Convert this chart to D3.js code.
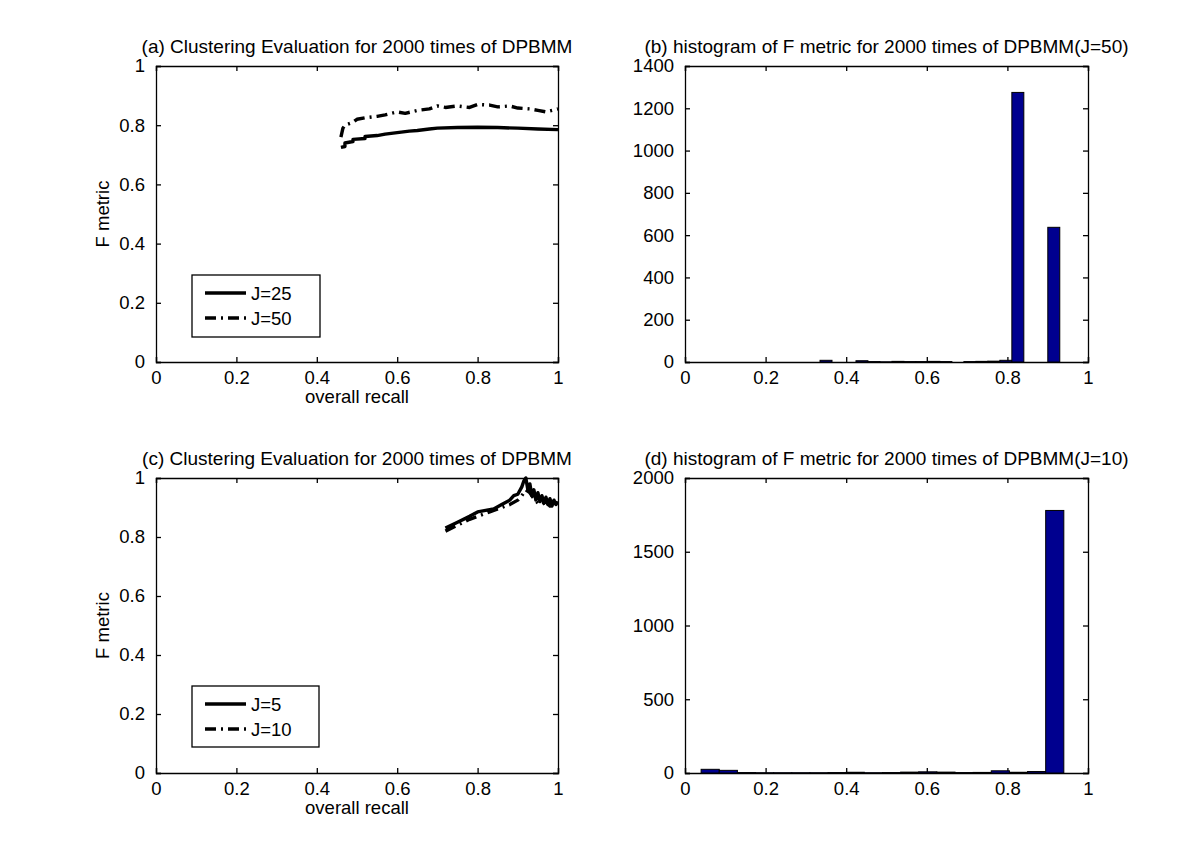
<!DOCTYPE html>
<html>
<head>
<meta charset="utf-8">
<script src="https://cdn.jsdelivr.net/npm/d3@7"></script>
<style>
  html, body { margin: 0; padding: 0; background: #fff; }
  svg text { font-family: "Liberation Sans", Arial, Helvetica, sans-serif; fill: #000; }
</style>
</head>
<body>
<script>
// ---------- DATA ----------
const titles = [
  "(a) Clustering Evaluation for 2000 times of DPBMM",
  "(b) histogram of F metric for 2000 times of DPBMM(J=50)",
  "(c) Clustering Evaluation for 2000 times of DPBMM",
  "(d) histogram of F metric for 2000 times of DPBMM(J=10)"
];
const xLabelCurve = "overall recall";
const yLabelCurve = "F metric";
const unitTicks = [0, 0.2, 0.4, 0.6, 0.8, 1];
const ticksB = [0, 200, 400, 600, 800, 1000, 1200, 1400];
const ticksD = [0, 500, 1000, 1500, 2000];

// panel (a)
const legendA = ["J=25", "J=50"];
const recallA25 = [0.46,0.47,0.47,0.49,0.49,0.52,0.52,0.55,0.57,0.60,0.63,0.65,0.68,0.70,0.75,0.80,0.85,0.90,0.95,1.00];
const fA25      = [0.725,0.728,0.740,0.745,0.752,0.755,0.762,0.765,0.770,0.775,0.780,0.782,0.787,0.790,0.792,0.793,0.792,0.790,0.787,0.785];
const recallA50 = [0.46,0.465,0.47,0.49,0.50,0.52,0.55,0.57,0.60,0.62,0.65,0.68,0.70,0.72,0.75,0.78,0.80,0.83,0.85,0.88,0.90,0.93,0.95,0.97,1.00];
const fA50      = [0.760,0.790,0.800,0.810,0.820,0.825,0.830,0.835,0.845,0.840,0.850,0.855,0.865,0.860,0.865,0.860,0.870,0.868,0.862,0.865,0.858,0.855,0.850,0.845,0.855];

// panel (c)
const legendC = ["J=5", "J=10"];
const recallC5 = [0.72,0.75,0.78,0.80,0.82,0.84,0.86,0.88,0.89,0.90,0.91,0.915,0.92,0.925,0.93,0.935,0.94,0.945,0.95,0.955,0.96,0.965,0.97,0.975,0.98,0.985,0.99,0.995,1.00];
const fC5      = [0.830,0.850,0.870,0.885,0.890,0.895,0.910,0.925,0.940,0.945,0.970,0.990,1.000,0.960,0.980,0.940,0.960,0.925,0.950,0.920,0.940,0.915,0.935,0.910,0.930,0.905,0.925,0.910,0.920];
const recallC10 = [0.72,0.75,0.78,0.80,0.83,0.86,0.88,0.90,0.91,0.92,0.93,0.94,0.95,0.96,0.97,0.98,0.99,1.00];
const fC10      = [0.820,0.840,0.860,0.870,0.885,0.900,0.910,0.925,0.940,0.960,0.950,0.930,0.915,0.910,0.920,0.905,0.915,0.910];

// panel (b) histogram: bin centers and counts
const binCentersB = [0.3499,0.3796,0.4094,0.4391,0.4689,0.4986,0.5284,0.5581,0.5879,0.6176,0.6474,0.6771,0.7069,0.7366,0.7664,0.7961,0.8259,0.8556,0.8854,0.9151];
const countsB     = [8,0,0,6,2,1,3,2,2,3,2,0,2,3,4,8,1275,0,0,637];
// panel (d) histogram
const binCentersD = [0.0625,0.1075,0.1525,0.1975,0.2425,0.2875,0.3325,0.3775,0.4225,0.4675,0.5125,0.5575,0.6025,0.6475,0.6925,0.7375,0.7825,0.8275,0.8725,0.9175];
const countsD     = [25,18,3,2,2,2,2,3,5,2,3,6,8,6,3,4,15,5,10,1780];

// ---------- LAYOUT ----------
const W = 1200, H = 868;
const colL = [156, 558], colR = [685, 1088];
const rowT = [66, 362], rowB = [478, 773];
const barFill = "#00008f";
const dashDot = "11,5,2,5";
const font = 18.5;

const svg = d3.select("body").append("svg")
  .attr("width", W).attr("height", H)
  .style("display", "block");
svg.append("rect").attr("width", W).attr("height", H).attr("fill", "#fff");

function makeAxes(xr, yr, yDomain, yTicks, xTicks, title, xlab, ylab) {
  const x = d3.scaleLinear().domain([0, 1]).range(xr);
  const y = d3.scaleLinear().domain(yDomain).range([yr[1], yr[0]]);
  const g = svg.append("g");
  const tk = 5;
  const bottom = g.append("g").attr("transform", `translate(0,${yr[1]})`)
    .call(d3.axisBottom(x).tickValues(xTicks).tickSize(-tk).tickPadding(4 + tk).tickFormat(d3.format("~g")));
  const top = g.append("g").attr("transform", `translate(0,${yr[0]})`)
    .call(d3.axisTop(x).tickValues(xTicks).tickSize(-tk).tickFormat(""));
  const left = g.append("g").attr("transform", `translate(${xr[0]},0)`)
    .call(d3.axisLeft(y).tickValues(yTicks).tickSize(-tk).tickPadding(6 + tk).tickFormat(d3.format("~g")));
  const right = g.append("g").attr("transform", `translate(${xr[1]},0)`)
    .call(d3.axisRight(y).tickValues(yTicks).tickSize(-tk).tickFormat(""));
  [bottom, top, left, right].forEach(a => {
    a.select(".domain").attr("stroke", "#000").attr("stroke-width", 1.3);
    a.selectAll(".tick line").attr("stroke", "#000").attr("stroke-width", 1.3);
    a.selectAll("text").style("font-size", font + "px")
      .style("font-family", '"Liberation Sans", Arial, sans-serif').attr("fill", "#000");
  });
  bottom.selectAll("text").attr("dy", "0.72em");
  svg.append("text").attr("x", (xr[0] + xr[1]) / 2).attr("y", yr[0] - 13)
    .attr("text-anchor", "middle").style("font-size", "19px").text(title);
  if (xlab) svg.append("text").attr("x", (xr[0] + xr[1]) / 2).attr("y", yr[1] + 41)
    .attr("text-anchor", "middle").style("font-size", font + "px").text(xlab);
  if (ylab) svg.append("text")
    .attr("transform", `translate(${xr[0] - 47},${(yr[0] + yr[1]) / 2}) rotate(-90)`)
    .attr("text-anchor", "middle").style("font-size", font + "px").text(ylab);
  return { x, y, g };
}

function curvePanel(xr, yr, title, series, labels, legendBox) {
  const { x, y } = makeAxes(xr, yr, [0, 1], unitTicks, unitTicks, title, xLabelCurve, yLabelCurve);
  const clipId = "clip" + Math.round(yr[0]);
  svg.append("clipPath").attr("id", clipId).append("rect")
    .attr("x", xr[0]).attr("y", yr[0] - 3).attr("width", xr[1] - xr[0]).attr("height", yr[1] - yr[0] + 3);
  const line = d3.line().x(d => x(d[0])).y(d => y(d[1]));
  series.forEach((s, i) => {
    const pts = s[0].map((v, k) => [v, s[1][k]]);
    svg.append("path").attr("d", line(pts))
      .attr("fill", "none").attr("stroke", "#000").attr("stroke-width", 3.4)
      .attr("stroke-linejoin", "round")
      .attr("stroke-dasharray", i === 1 ? dashDot : null)
      .attr("clip-path", `url(#${clipId})`);
  });
  const [lx, ly, lw, lh] = legendBox;
  const lg = svg.append("g");
  lg.append("rect").attr("x", lx).attr("y", ly).attr("width", lw).attr("height", lh)
    .attr("fill", "#fff").attr("stroke", "#000").attr("stroke-width", 1.3);
  labels.forEach((lab, i) => {
    const yy = ly + 18 + i * 25;
    lg.append("line").attr("x1", lx + 13).attr("x2", lx + 54).attr("y1", yy).attr("y2", yy)
      .attr("stroke", "#000").attr("stroke-width", 3.4)
      .attr("stroke-dasharray", i === 1 ? dashDot : null);
    lg.append("text").attr("x", lx + 59).attr("y", yy + 7).style("font-size", font + "px").text(lab);
  });
}

function histPanel(xr, yr, title, yMax, yTicks, centers, counts) {
  const { x, y } = makeAxes(xr, yr, [0, yMax], yTicks, unitTicks, title, null, null);
  const bw = centers[1] - centers[0];
  svg.append("g").selectAll("rect").data(centers).join("rect")
    .attr("x", d => x(d - bw / 2))
    .attr("width", d => x(d + bw / 2) - x(d - bw / 2))
    .attr("y", (d, i) => y(counts[i]))
    .attr("height", (d, i) => y(0) - y(counts[i]))
    .attr("fill", barFill).attr("stroke", "#000").attr("stroke-width", 1);
}

curvePanel(colL, rowT, titles[0], [[recallA25, fA25], [recallA50, fA50]], legendA, [192, 275, 128, 62]);
histPanel(colR, rowT, titles[1], 1400, ticksB, binCentersB, countsB);
curvePanel(colL, rowB, titles[2], [[recallC5, fC5], [recallC10, fC10]], legendC, [192, 686, 127, 61]);
histPanel(colR, rowB, titles[3], 2000, ticksD, binCentersD, countsD);
</script>
</body>
</html>
